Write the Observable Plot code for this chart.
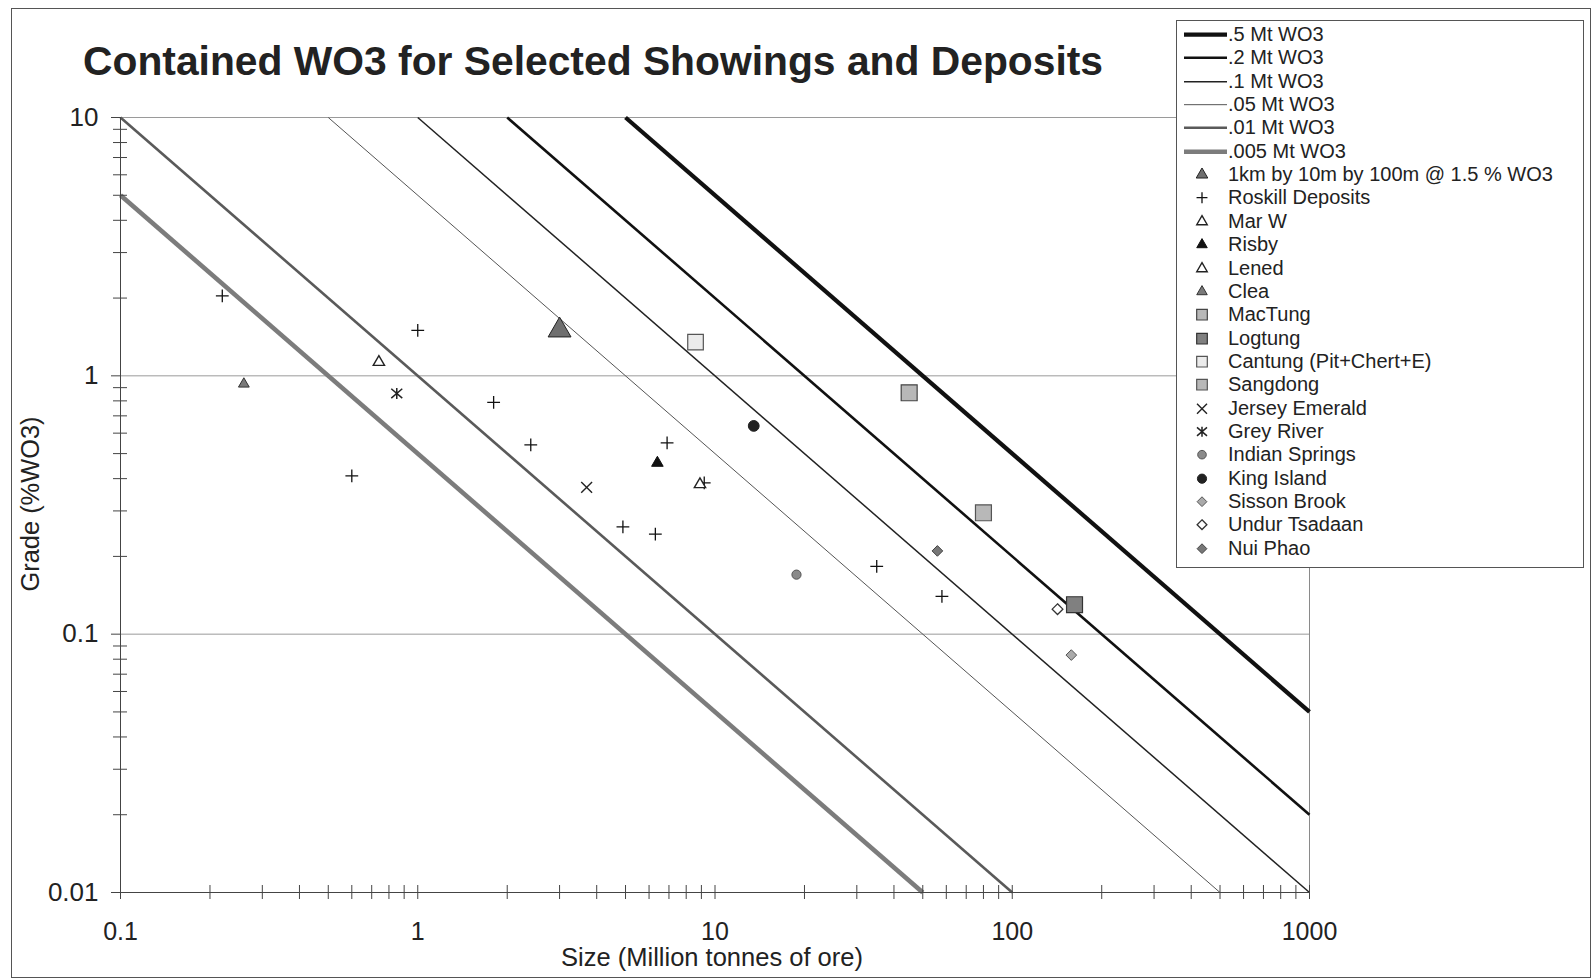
<!DOCTYPE html>
<html>
<head>
<meta charset="utf-8">
<script src="https://cdn.jsdelivr.net/npm/d3@7"></script>
<script src="https://cdn.jsdelivr.net/npm/@observablehq/plot@0.6"></script>
<style>
  html, body { margin: 0; padding: 0; background: #fff; }
  body { font-family: "Liberation Sans", Arial, sans-serif; color: #222; }
  #wrap { position: relative; width: 1596px; height: 980px; overflow: hidden; background: #fff; }
  #wrap > svg { position: absolute; left: 0; top: 0; }
  #frame { position: absolute; left: 11px; top: 8px; width: 1580px; height: 970px; border: 1px solid #555; box-sizing: border-box; pointer-events: none; }
  #title { position: absolute; left: 83px; top: 41px; font-weight: bold; font-size: 40.8px; line-height: 40px; white-space: nowrap; color: #222; }
  #ylab { position: absolute; left: 31px; top: 504px; font-size: 25.4px; line-height: 1; white-space: nowrap; transform: translate(-50%, -50%) rotate(-90deg); color: #222; }
  #xlab { position: absolute; left: 712px; top: 945px; font-size: 25.5px; line-height: 25.5px; white-space: nowrap; transform: translateX(-50%); color: #222; }
  #legend { position: absolute; left: 1176px; top: 20px; width: 408px; height: 548px; border: 1px solid #555; box-sizing: border-box; background: #fff; }
  .lrow { position: absolute; left: 0; height: 23.36px; width: 100%; }
  .lrow svg { position: absolute; left: 7px; top: 0; }
  .lrow span { position: absolute; left: 51px; top: 0; font-size: 20px; line-height: 23.36px; white-space: nowrap; color: #222; }
</style>
</head>
<body>
<div id="wrap">
  <div id="title">Contained WO3 for Selected Showings and Deposits</div>
  <div id="ylab">Grade (%WO3)</div>
  <div id="xlab">Size (Million tonnes of ore)</div>
  <div id="legend"></div>
  <div id="frame"></div>
</div>
<script>
// ---------- data ----------
// contained-WO3 reference lines (endpoints)
const lineLabels     = [".5 Mt WO3", ".2 Mt WO3", ".1 Mt WO3", ".05 Mt WO3", ".01 Mt WO3", ".005 Mt WO3"];
const lineStartSize  = [5, 2, 1, 0.5, 0.1, 0.1];
const lineStartGrade = [10, 10, 10, 10, 10, 5];
const lineEndSize    = [1000, 1000, 1000, 500, 100, 50];
const lineEndGrade   = [0.05, 0.02, 0.01, 0.01, 0.01, 0.01];

// point series
const seriesNames = [
  "1km by 10m by 100m @ 1.5 % WO3", "Roskill Deposits", "Mar W", "Risby", "Lened", "Clea",
  "MacTung", "Logtung", "Cantung (Pit+Chert+E)", "Sangdong", "Jersey Emerald", "Grey River",
  "Indian Springs", "King Island", "Sisson Brook", "Undur Tsadaan", "Nui Phao"
];
const pointSeries = [
  "1km by 10m by 100m @ 1.5 % WO3",
  "Roskill Deposits", "Roskill Deposits", "Roskill Deposits", "Roskill Deposits", "Roskill Deposits",
  "Roskill Deposits", "Roskill Deposits", "Roskill Deposits", "Roskill Deposits", "Roskill Deposits", "Roskill Deposits",
  "Mar W", "Risby", "Lened", "Clea",
  "MacTung", "Logtung", "Cantung (Pit+Chert+E)", "Sangdong",
  "Jersey Emerald", "Grey River", "Indian Springs", "King Island",
  "Sisson Brook", "Undur Tsadaan", "Nui Phao"
];
const pointSize = [
  3.0,
  0.22, 0.6, 1.0, 1.8, 2.4, 4.9, 6.3, 6.9, 9.2, 35, 58,
  8.9, 6.4, 0.74, 0.26,
  45, 162, 8.6, 80,
  3.7, 0.85, 18.8, 13.5,
  158, 142, 56
];
const pointGrade = [
  1.5,
  2.04, 0.41, 1.5, 0.79, 0.54, 0.26, 0.244, 0.55, 0.385, 0.183, 0.14,
  0.38, 0.46, 1.13, 0.93,
  0.86, 0.13, 1.35, 0.295,
  0.37, 0.855, 0.17, 0.64,
  0.083, 0.125, 0.21
];

// axis ticks
const xMajor = [0.1, 1, 10, 100, 1000];
const xMinor = [0.2, 0.3, 0.4, 0.5, 0.6, 0.7, 0.8, 0.9, 2, 3, 4, 5, 6, 7, 8, 9,
                20, 30, 40, 50, 60, 70, 80, 90, 200, 300, 400, 500, 600, 700, 800, 900];
const yMajor = [0.01, 0.1, 1, 10];
const yMinor = [0.02, 0.03, 0.04, 0.05, 0.06, 0.07, 0.08, 0.09, 0.2, 0.3, 0.4, 0.5, 0.6, 0.7, 0.8, 0.9,
                2, 3, 4, 5, 6, 7, 8, 9];
const yGrid = [0.1, 1, 10];

// ---------- styles ----------
const xbar = {
  draw(ctx, size) {
    const r = Math.sqrt(size / Math.PI);
    ctx.moveTo(-r, -r * 0.85); ctx.lineTo(r, r * 0.85);
    ctx.moveTo(-r, r * 0.85); ctx.lineTo(r, -r * 0.85);
    ctx.moveTo(0, -r); ctx.lineTo(0, r);
  }
};
const lineStyle = [
  {stroke: "#111", sw: 4.2},
  {stroke: "#111", sw: 2.6},
  {stroke: "#222", sw: 1.5},
  {stroke: "#555", sw: 1},
  {stroke: "#5a5a5a", sw: 2.6},
  {stroke: "#7c7c7c", sw: 4.6}
];
const seriesStyle = [
  {sym: d3.symbolTriangle, r: 8.5, lr: 4.3, fill: "#6f6f6f", stroke: "#222", sw: 1},
  {sym: d3.symbolPlus, r: 4.2, lr: 3.6, fill: "none", stroke: "#111", sw: 1.3},
  {sym: d3.symbolTriangle, r: 4.2, lr: 3.9, fill: "#fff", stroke: "#222", sw: 1.4},
  {sym: d3.symbolTriangle, r: 4.3, lr: 3.9, fill: "#111", stroke: "#111", sw: 1},
  {sym: d3.symbolTriangle, r: 4.2, lr: 3.9, fill: "#fff", stroke: "#222", sw: 1.4},
  {sym: d3.symbolTriangle, r: 4.0, lr: 3.9, fill: "#7a7a7a", stroke: "#333", sw: 1},
  {sym: d3.symbolSquare, r: 9, lr: 6, fill: "#b8b8b8", stroke: "#444", sw: 1.2},
  {sym: d3.symbolSquare, r: 9, lr: 6, fill: "#808080", stroke: "#333", sw: 1.2},
  {sym: d3.symbolSquare, r: 8.8, lr: 6, fill: "#ebebeb", stroke: "#555", sw: 1.2},
  {sym: d3.symbolSquare, r: 9, lr: 6, fill: "#b8b8b8", stroke: "#555", sw: 1.2},
  {sym: d3.symbolTimes, r: 5, lr: 4.6, fill: "none", stroke: "#222", sw: 1.4},
  {sym: xbar, r: 5.5, lr: 5, fill: "none", stroke: "#222", sw: 1.5},
  {sym: d3.symbolCircle, r: 4.6, lr: 4.3, fill: "#8a8a8a", stroke: "#555", sw: 1},
  {sym: d3.symbolCircle, r: 5.4, lr: 4.6, fill: "#222", stroke: "#222", sw: 1},
  {sym: d3.symbolDiamond2, r: 4.8, lr: 4.4, fill: "#aaa", stroke: "#555", sw: 1},
  {sym: d3.symbolDiamond2, r: 4.8, lr: 4.4, fill: "#fff", stroke: "#333", sw: 1.3},
  {sym: d3.symbolDiamond2, r: 4.8, lr: 4.4, fill: "#777", stroke: "#444", sw: 1}
];

// ---------- build tables ----------
const lines = lineLabels.map((label, i) => ({
  label, x1: lineStartSize[i], y1: lineStartGrade[i], x2: lineEndSize[i], y2: lineEndGrade[i],
  stroke: lineStyle[i].stroke, sw: lineStyle[i].sw
}));
const points = pointSeries.map((s, i) => ({series: s, size: pointSize[i], grade: pointGrade[i]}));

const W = 1596, H = 980;
const fmt = d => String(d);

const dotMarks = seriesNames.map((name, i) => {
  const st = seriesStyle[i];
  return Plot.dot(points.filter(p => p.series === name), {
    x: "size", y: "grade", symbol: st.sym, r: st.r,
    fill: st.fill, stroke: st.stroke, strokeWidth: st.sw
  });
});

const chart = Plot.plot({
  width: W, height: H,
  marginLeft: 120, marginRight: W - 1309, marginTop: 117, marginBottom: H - 892,
  x: {type: "log", domain: [0.1, 1000]},
  y: {type: "log", domain: [0.01, 10]},
  style: {background: "transparent", fontFamily: "'Liberation Sans', Arial, sans-serif", color: "#222"},
  marks: [
    Plot.ruleY(yGrid, {stroke: "#9a9a9a", strokeWidth: 1}),
    Plot.ruleX([1000], {stroke: "#8a8a8a", strokeWidth: 1}),
    Plot.link(lines, {x1: "x1", y1: "y1", x2: "x2", y2: "y2", stroke: "stroke", strokeWidth: "sw"}),
    ...dotMarks,
    Plot.ruleX([0.1], {stroke: "#444", strokeWidth: 1}),
    Plot.ruleY([0.01], {stroke: "#444", strokeWidth: 1}),
    Plot.axisY(yMinor, {anchor: "left", tickSize: 14, dx: 7, tickFormat: () => "", stroke: "#444", label: null}),
    Plot.axisY(yMajor, {anchor: "left", tickSize: 9, tickPadding: 13, tickFormat: fmt, fontSize: 26, stroke: "#444", fill: "#222", label: null}),
    Plot.axisX(xMinor, {anchor: "bottom", tickSize: 14, dy: -7, tickFormat: () => "", stroke: "#444", label: null}),
    Plot.axisX(xMajor, {anchor: "bottom", tickSize: 14, dy: -7, tickPadding: 23, tickFormat: fmt, fontSize: 25, stroke: "#444", fill: "#222", label: null})
  ]
});
document.getElementById("wrap").insertBefore(chart, document.getElementById("title"));

// ---------- legend ----------
const legend = d3.select("#legend");
const rowH = 23.36, row0 = 13.6 - rowH / 2;
let idx = 0;
lineLabels.forEach((label, i) => {
  const row = legend.append("div").attr("class", "lrow").style("top", (row0 + idx * rowH) + "px");
  const svg = row.append("svg").attr("width", 46).attr("height", rowH);
  svg.append("line").attr("x1", 0).attr("x2", 43).attr("y1", rowH / 2).attr("y2", rowH / 2)
    .attr("stroke", lineStyle[i].stroke).attr("stroke-width", lineStyle[i].sw);
  row.append("span").text(label);
  idx++;
});
seriesNames.forEach((name, i) => {
  const st = seriesStyle[i];
  const row = legend.append("div").attr("class", "lrow").style("top", (row0 + idx * rowH) + "px");
  const svg = row.append("svg").attr("width", 46).attr("height", rowH);
  svg.append("path")
    .attr("d", d3.symbol().type(st.sym).size(Math.PI * st.lr * st.lr)())
    .attr("transform", `translate(18,${rowH / 2})`)
    .attr("fill", st.fill).attr("stroke", st.stroke).attr("stroke-width", st.sw);
  row.append("span").text(name);
  idx++;
});
</script>
</body>
</html>
